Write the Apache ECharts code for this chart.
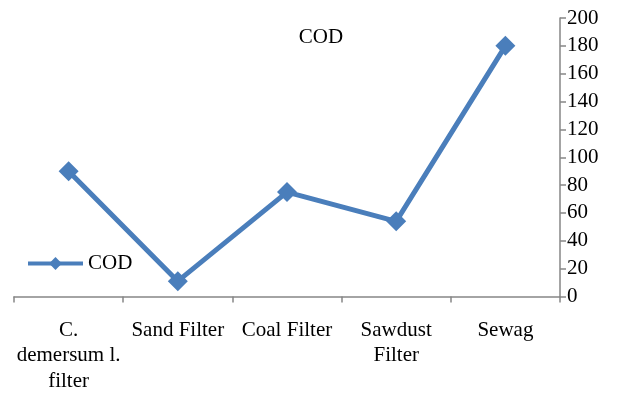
<!DOCTYPE html>
<html>
<head>
<meta charset="utf-8">
<script src="https://cdn.jsdelivr.net/npm/echarts@6/dist/echarts.min.js"></script>
<style>
html, body { margin: 0; padding: 0; background: #fff; }
#chart { width: 627px; height: 394px; }
</style>
</head>
<body>
<div id="chart"></div>
<script>
// COD by treatment stage
const categories = ['C.\ndemersum l.\nfilter', 'Sand Filter', 'Coal Filter', 'Sawdust\nFilter', 'Sewag'];
const codValues = [90, 11, 75, 54, 180];
const seriesName = 'COD';

const serif = '"Liberation Serif", "Times New Roman", serif';
const axisGray = '#868686';
const lineBlue = '#4A7EBB';

const chart = echarts.init(document.getElementById('chart'));
chart.setOption({
  animation: false,
  title: {
    text: 'COD',
    left: 316,
    top: 22,
    textAlign: 'center',
    textStyle: { fontFamily: serif, fontSize: 21, fontWeight: 'normal', color: '#000' }
  },
  legend: {
    data: [seriesName],
    left: 21,
    top: 248,
    itemWidth: 55,
    itemHeight: 16,
    itemGap: 4,
    lineStyle: { width: 4 },
    textStyle: { fontFamily: serif, fontSize: 21, color: '#000' }
  },
  grid: { left: 14, right: 67, top: 18, bottom: 96, containLabel: false },
  xAxis: {
    type: 'category',
    data: categories,
    boundaryGap: true,
    axisLine: { lineStyle: { color: axisGray, width: 1.5 } },
    axisTick: { show: true, length: 6, inside: false, lineStyle: { color: axisGray, width: 1.5 } },
    axisLabel: {
      interval: 0,
      margin: 21,
      fontFamily: serif,
      fontSize: 21,
      color: '#000',
      lineHeight: 25.5
    }
  },
  yAxis: {
    type: 'value',
    position: 'right',
    min: 0,
    max: 200,
    interval: 20,
    splitLine: { show: false },
    axisLine: { show: true, lineStyle: { color: axisGray, width: 1.5 } },
    axisTick: { show: true, length: 6, lineStyle: { color: axisGray, width: 1.5 } },
    axisLabel: { margin: 7, fontFamily: serif, fontSize: 21, color: '#000' }
  },
  series: [{
    name: seriesName,
    type: 'line',
    data: codValues,
    symbol: 'diamond',
    symbolSize: 20,
    lineStyle: { color: lineBlue, width: 5 },
    itemStyle: { color: lineBlue }
  }]
});
</script>
</body>
</html>
